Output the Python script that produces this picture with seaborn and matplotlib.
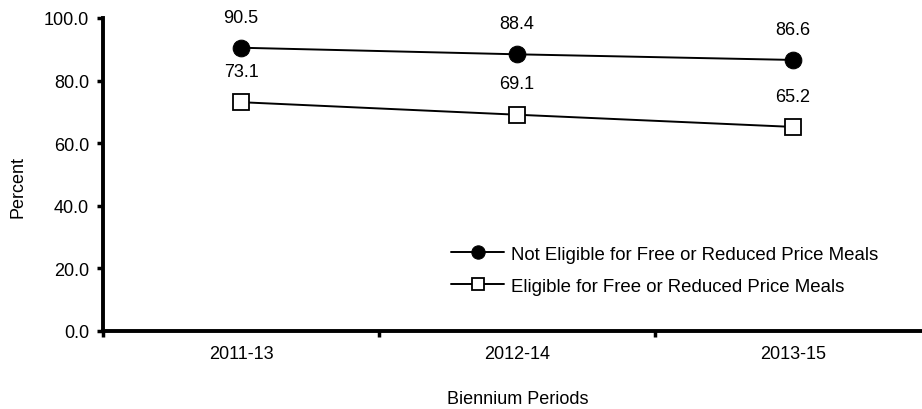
import matplotlib
matplotlib.use("Agg")
import matplotlib.pyplot as plt
import seaborn as sns
import pandas as pd

periods = ["2011-13", "2012-14", "2013-15"]
not_eligible = [90.5, 88.4, 86.6]
eligible = [73.1, 69.1, 65.2]
series_names = ["Not Eligible for Free or Reduced Price Meals",
                "Eligible for Free or Reduced Price Meals"]
y_ticks = [0, 20, 40, 60, 80, 100]

sns.set_style("white")
plt.rcParams['font.family'] = ['Liberation Sans', 'DejaVu Sans']
plt.rcParams['text.color'] = 'black'
plt.rcParams['axes.labelcolor'] = 'black'
plt.rcParams['xtick.color'] = 'black'
plt.rcParams['ytick.color'] = 'black'

FS = 13
fig = plt.figure(figsize=(9.22, 4.10), dpi=100)
ax = fig.add_axes([103/922, 1-332/410, 819/922, 313/410])

df1 = pd.DataFrame({"x": range(len(periods)), "y": not_eligible})
df2 = pd.DataFrame({"x": range(len(periods)), "y": eligible})

sns.lineplot(data=df1, x="x", y="y", ax=ax, color="black", linewidth=1.4,
             marker="o", markersize=12, markerfacecolor="black",
             markeredgecolor="black", label=series_names[0])
sns.lineplot(data=df2, x="x", y="y", ax=ax, color="black", linewidth=1.4,
             marker="s", markersize=11, markerfacecolor="white",
             markeredgecolor="black", markeredgewidth=1.3, label=series_names[1])

for vals in (not_eligible, eligible):
    for i, v in enumerate(vals):
        ax.annotate(f"{v:.1f}", (i, v), xytext=(0, 16), textcoords="offset points",
                    ha="center", va="bottom", fontsize=FS, color="black")

ax.set_xlim(-0.5, 2.467)
ax.set_ylim(0, 100)
ax.set_yticks(y_ticks)
ax.set_yticklabels([f"{t:.1f}" for t in y_ticks], fontsize=FS)
ax.set_xticks([-0.5, 0.5, 1.5])
ax.set_xticklabels([])
ax.set_xticks(range(len(periods)), minor=True)
ax.set_xticklabels(periods, minor=True, fontsize=FS)
ax.tick_params(axis="x", which="minor", bottom=True, length=0, pad=10)
ax.tick_params(axis="x", which="major", bottom=True, length=4, width=2.5,
               direction="out", color="black")
ax.tick_params(axis="y", left=True, length=4, width=2.5, direction="out",
               color="black", pad=6)

for s in ["top", "right"]:
    ax.spines[s].set_visible(False)
for s in ["left", "bottom"]:
    ax.spines[s].set_linewidth(2.8)
    ax.spines[s].set_color("black")

ax.set_xlabel("Biennium Periods", fontsize=FS)
ax.set_ylabel("Percent", fontsize=FS)
ax.xaxis.set_label_coords((517.5-103)/819, (332-391)/313)
ax.yaxis.set_label_coords((27-103)/819, (332-187)/313)

leg = ax.legend(loc="upper left", bbox_to_anchor=(0.425, 0.272), frameon=False,
                fontsize=13.4, handlelength=2.85, labelspacing=0.8, handletextpad=0.35,
                borderpad=0, borderaxespad=0, markerscale=0.8)
for t in leg.get_texts():
    t.set_color("black")

fig.savefig("out.png", dpi=100)
